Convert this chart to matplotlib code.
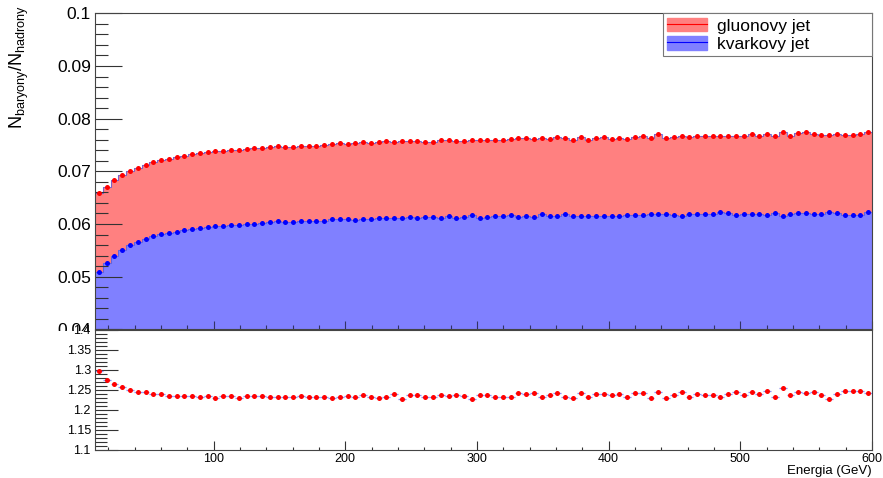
import numpy as np
import matplotlib
matplotlib.use('Agg')
import matplotlib.pyplot as plt
from matplotlib.ticker import MultipleLocator, FuncFormatter
from matplotlib.patches import Patch, Rectangle
from matplotlib.lines import Line2D

plt.rcParams['font.family'] = ['Liberation Sans', 'DejaVu Sans']
plt.rcParams['mathtext.default'] = 'regular'

# binning: 100 bins between 10 and 600 GeV
e_min, e_max, n_bins = 10, 600, 100

# N_baryony / N_hadrony per bin
gluon = [0.06596, 0.06711, 0.06838, 0.06928, 0.07004, 0.07068, 0.07125, 0.07170, 0.07208, 0.07240,
         0.07265, 0.07297, 0.07323, 0.07348, 0.07367, 0.07380, 0.07386, 0.07399, 0.07412, 0.07425,
         0.07437, 0.07437, 0.07456, 0.07476, 0.07463, 0.07463, 0.07482, 0.07482, 0.07482, 0.07507,
         0.07514, 0.07533, 0.07520, 0.07539, 0.07552, 0.07533, 0.07552, 0.07578, 0.07552, 0.07571,
         0.07584, 0.07578, 0.07565, 0.07558, 0.07590, 0.07603, 0.07578, 0.07584, 0.07597, 0.07590,
         0.07603, 0.07590, 0.07603, 0.07609, 0.07641, 0.07629, 0.07622, 0.07629, 0.07616, 0.07660,
         0.07635, 0.07590, 0.07654, 0.07590, 0.07641, 0.07654, 0.07616, 0.07635, 0.07616, 0.07654,
         0.07667, 0.07635, 0.07705, 0.07641, 0.07648, 0.07667, 0.07648, 0.07680, 0.07680, 0.07680,
         0.07680, 0.07680, 0.07680, 0.07667, 0.07718, 0.07667, 0.07718, 0.07667, 0.07743, 0.07667,
         0.07731, 0.07743, 0.07718, 0.07692, 0.07692, 0.07718, 0.07692, 0.07692, 0.07705, 0.07756]

quark = [0.05086, 0.05258, 0.05398, 0.05500, 0.05595, 0.05659, 0.05717, 0.05768, 0.05806, 0.05831,
         0.05857, 0.05882, 0.05908, 0.05933, 0.05952, 0.05965, 0.05971, 0.05984, 0.05991, 0.06003,
         0.06010, 0.06022, 0.06042, 0.06054, 0.06042, 0.06042, 0.06054, 0.06067, 0.06067, 0.06067,
         0.06093, 0.06093, 0.06105, 0.06080, 0.06105, 0.06093, 0.06118, 0.06118, 0.06118, 0.06118,
         0.06137, 0.06118, 0.06131, 0.06131, 0.06124, 0.06144, 0.06112, 0.06131, 0.06163, 0.06124,
         0.06137, 0.06150, 0.06150, 0.06163, 0.06137, 0.06144, 0.06137, 0.06182, 0.06156, 0.06156,
         0.06188, 0.06156, 0.06156, 0.06156, 0.06156, 0.06150, 0.06150, 0.06144, 0.06169, 0.06163,
         0.06163, 0.06188, 0.06182, 0.06182, 0.06163, 0.06150, 0.06182, 0.06188, 0.06195, 0.06182,
         0.06220, 0.06201, 0.06163, 0.06182, 0.06182, 0.06182, 0.06169, 0.06214, 0.06150, 0.06182,
         0.06201, 0.06214, 0.06182, 0.06188, 0.06233, 0.06207, 0.06163, 0.06163, 0.06175, 0.06226]

# gluon / quark
ratio = [1.2966, 1.2739, 1.2638, 1.2563, 1.2504, 1.2462, 1.2445, 1.2412, 1.2412, 1.2361,
         1.2361, 1.2344, 1.2344, 1.2328, 1.2344, 1.2311, 1.2344, 1.2344, 1.2311, 1.2344,
         1.2344, 1.2344, 1.2319, 1.2336, 1.2319, 1.2336, 1.2344, 1.2319, 1.2319, 1.2319,
         1.2302, 1.2319, 1.2344, 1.2319, 1.2369, 1.2319, 1.2302, 1.2319, 1.2403, 1.2285,
         1.2369, 1.2386, 1.2319, 1.2319, 1.2369, 1.2344, 1.2369, 1.2344, 1.2285, 1.2369,
         1.2369, 1.2319, 1.2319, 1.2336, 1.2437, 1.2403, 1.2420, 1.2319, 1.2369, 1.2437,
         1.2319, 1.2302, 1.2420, 1.2336, 1.2403, 1.2403, 1.2369, 1.2403, 1.2319, 1.2420,
         1.2437, 1.2302, 1.2445, 1.2302, 1.2386, 1.2454, 1.2336, 1.2403, 1.2369, 1.2386,
         1.2319, 1.2403, 1.2462, 1.2369, 1.2454, 1.2403, 1.2487, 1.2336, 1.2554, 1.2386,
         1.2454, 1.2437, 1.2454, 1.2386, 1.2285, 1.2403, 1.2487, 1.2470, 1.2470, 1.2420]

labels = ['gluonovy jet', 'kvarkovy jet']

edges = np.linspace(e_min, e_max, n_bins + 1)
centers = 0.5 * (edges[1:] + edges[:-1])
half = 0.5 * (edges[1] - edges[0])

red_fill = '#ff8080'
blue_fill = '#8080ff'
outline = '#5a5ad8'

W, H = 883, 478
fig = plt.figure(figsize=(W / 100, H / 100), dpi=100)
left = 95 / W
width = 777 / W
ax1 = fig.add_axes([left, 1 - 329.4 / H, width, (329.4 - 13.3) / H])
ax2 = fig.add_axes([left, 1 - 450 / H, width, (450 - 330) / H])
ax2.set_zorder(1)

# upper pad: filled histograms
ax1.stairs(gluon, edges, fill=True, color=red_fill, baseline=0)
ax1.stairs(quark, edges, fill=True, color=blue_fill, baseline=0)
ax1.stairs(gluon, edges, baseline=None, color=outline, lw=0.8, alpha=0.8)
ax1.stairs(quark, edges, baseline=None, color=outline, lw=0.8, alpha=0.8)
ax1.plot(centers, gluon, 'o', color='red', ms=3.6, mew=0)
ax1.plot(centers, quark, 'o', color='blue', ms=3.6, mew=0)

ax1.set_xlim(e_min, e_max)
ax1.set_ylim(0.04, 0.1)
ax1.yaxis.set_major_locator(MultipleLocator(0.01))
ax1.yaxis.set_minor_locator(MultipleLocator(0.002))
ax1.yaxis.set_major_formatter(FuncFormatter(lambda v, p: f'{v:g}'))
ax1.xaxis.set_major_locator(MultipleLocator(100))
ax1.xaxis.set_minor_locator(MultipleLocator(20))
ax1.tick_params(axis='y', which='major', direction='in', length=19.5, width=0.8,
                labelsize=12.5, pad=3, color='#333333')
ax1.tick_params(axis='y', which='minor', direction='in', length=9.5, width=0.8, color='#333333')
ax1.tick_params(axis='x', which='major', direction='in', length=6, width=0.8,
                labelbottom=False, color='#333366')
ax1.tick_params(axis='x', which='minor', direction='in', length=3, width=0.8, color='#333366')
for s in ax1.spines.values():
    s.set_linewidth(0.8)
    s.set_color('#444444')

handles = [(Patch(fc=red_fill, ec=red_fill), Line2D([], [], color='red', lw=0.8)),
           (Patch(fc=blue_fill, ec=blue_fill), Line2D([], [], color='blue', lw=0.8))]
leg = ax1.legend(handles, labels, loc='upper left', bbox_to_anchor=(0.731, 0.5, 0.269, 0.5),
                 mode='expand', borderaxespad=0, fancybox=False, framealpha=1,
                 edgecolor='#777777', fontsize=12.5, handlelength=2.3, handleheight=0.85,
                 handletextpad=0.55, borderpad=0.25, labelspacing=0.12)
leg.get_frame().set_linewidth(0.8)

fig.text(19 / W, 1 - 5 / H, r'$N_{baryony}/N_{hadrony}$', rotation=90,
         ha='center', va='top', fontsize=13)

# lower pad covers the bottom of the upper pad
fig.add_artist(Rectangle((0, 0), 1, 1 - 330.5 / H, transform=fig.transFigure,
                         fc='white', ec='none', zorder=0.5))

# lower pad: ratio
ax2.errorbar(centers, ratio, xerr=half, fmt='o', color='red', ms=3.6, mew=0,
             ecolor='#8c8cf0', elinewidth=0.9, capsize=0)
ax2.set_xlim(e_min, e_max)
ax2.set_ylim(1.1, 1.4)
ax2.yaxis.set_major_locator(MultipleLocator(0.05))
ax2.yaxis.set_minor_locator(MultipleLocator(0.01))
ax2.yaxis.set_major_formatter(FuncFormatter(lambda v, p: f'{v:g}'))
ax2.xaxis.set_major_locator(MultipleLocator(100))
ax2.xaxis.set_minor_locator(MultipleLocator(20))
ax2.tick_params(axis='y', which='major', direction='in', length=16.5, width=0.8,
                labelsize=9, pad=3, color='#333333')
ax2.tick_params(axis='y', which='minor', direction='in', length=8.5, width=0.8, color='#333333')
ax2.tick_params(axis='x', which='major', direction='in', length=6.5, width=0.8,
                labelsize=9, pad=2, color='#333333')
ax2.tick_params(axis='x', which='minor', direction='in', length=2.5, width=0.8, color='#333333')
for s in ax2.spines.values():
    s.set_linewidth(0.8)
    s.set_color('#444444')

fig.text(872 / W, 1 - 474 / H, 'Energia (GeV)', ha='right', va='baseline', fontsize=9.5)

fig.savefig('out.png', dpi=100)
